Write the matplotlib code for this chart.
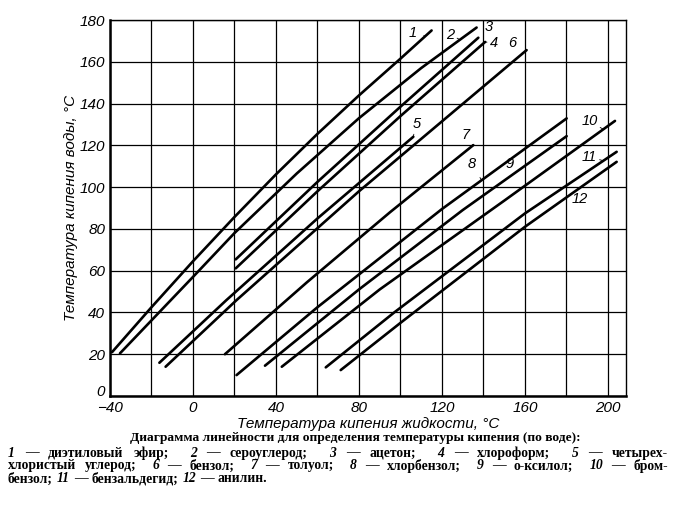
import numpy as np
import matplotlib.pyplot as plt

# Dühring-type lines: boiling point of liquid (x) vs boiling point of water (y), °C
x1 = [-39, -20, 0, 20, 40, 60, 80, 100, 115]
y1 = [21, 42.5, 64.5, 85.7, 106.1, 125.5, 143.9, 161.5, 175]
x2 = [-35.2, 0, 20, 50, 80, 110, 136.7]
y2 = [20.4, 57, 78, 106.5, 133, 157, 176.4]
x3 = [20.6, 60, 100, 137.5]
y3 = [65.4, 102.5, 138.5, 171.5]
x4 = [20.6, 60, 100, 140.8]
y4 = [61.1, 98, 134, 169.5]
x5 = [-16.2, 16, 60, 106.2]
y5 = [15.9, 45.8, 85, 124.1]
x6 = [-13.2, 21, 80, 160.8]
y6 = [14, 45.9, 98, 165.6]
x7 = [15.4, 55, 95, 135.1]
y7 = [20, 54.5, 88, 120.1]
x8 = [21, 60, 120, 180.1]
y8 = [10, 42.5, 89.5, 132.9]
x9 = [34.7, 80, 130, 180.1]
y9 = [14.5, 51, 89, 124.4]
x10 = [42.8, 90, 150, 203.4]
y10 = [14, 51, 93.5, 131.7]
x11 = [64, 97, 160, 204.2]
y11 = [13.7, 40, 87.4, 116.9]
x12 = [71.2, 100, 160, 204.2]
y12 = [12.4, 35, 81, 112.1]

lines_x = [x1, x2, x3, x4, x5, x6, x7, x8, x9, x10, x11, x12]
lines_y = [y1, y2, y3, y4, y5, y6, y7, y8, y9, y10, y11, y12]
labels = ['1', '2', '3', '4', '5', '6', '7', '8', '9', '10', '11', '12']

# label text position and x of the leader tip on the line
lab_pos = [(106, 174), (124, 173), (142.5, 176.5), (145, 169), (108, 130), (154, 169),
           (131.5, 125), (134.5, 111), (152.5, 111), (191, 131.5), (191, 114.5), (186.5, 94.5)]
tip_x = [112, 128.7, 137.5, 140.8, 106, 159, 135, 139.1, 157.6, 197.8, 197.8, 186.5]

caption_title = 'Диаграмма линейности для определения температуры кипения (по воде):'
caption_lines = [
    '1 — диэтиловый эфир; 2 — сероуглерод; 3 — ацетон; 4 — хлороформ; 5 — четырех-',
    'хлористый углерод; 6 — бензол; 7 — толуол; 8 — хлорбензол; 9 — о-ксилол; 10 — бром-',
    'бензол; 11 — бензальдегид; 12 — анилин.',
]

sans = ['Liberation Sans', 'DejaVu Sans']
serif = ['Liberation Serif', 'DejaVu Serif']

fig = plt.figure(figsize=(6.94, 5.16), dpi=100)
ax = fig.add_axes([0.1585, 0.2326, 0.7435, 0.7286])

for xs, ys in zip(lines_x, lines_y):
    ax.plot(xs, ys, color='black', lw=1.9, solid_capstyle='round', solid_joinstyle='round')

for lab, (tx, ty), xt, xs, ys in zip(labels, lab_pos, tip_x, lines_x, lines_y):
    yt = np.interp(xt, xs, ys)
    ax.annotate(lab, xy=(xt, yt), xytext=(tx, ty), ha='center', va='center',
                fontsize=10.5, style='italic', family=sans,
                arrowprops=dict(arrowstyle='-', lw=0.6, color='black', shrinkA=3, shrinkB=0))

ax.set_xlim(-40, 208.7)
ax.set_ylim(0, 180)
ax.set_xticks(np.arange(-40, 201, 40))
ax.set_xticks(np.arange(-40, 201, 20), minor=True)
ax.set_yticks(np.arange(0, 181, 20))
ax.set_xticklabels(['\u221240', '0', '40', '80', '120', '160', '200'])
ax.grid(True, which='both', color='black', lw=0.9)
ax.tick_params(which='both', length=0, labelsize=11)
ax.tick_params(axis='x', pad=3.5)
ax.tick_params(axis='y', pad=3.5)
for t in ax.get_xticklabels() + ax.get_yticklabels():
    t.set_fontstyle('italic')
    t.set_family(sans)
ax.get_yticklabels()[0].set_va('baseline')

for side in ['left', 'bottom']:
    ax.spines[side].set_linewidth(1.8)
for side in ['top', 'right']:
    ax.spines[side].set_linewidth(1.0)

ax.set_ylabel('Температура кипения воды, °С', fontsize=11, style='italic', family=sans)
ax.yaxis.set_label_coords(-0.062, 0.5)
ax.set_xlabel('Температура кипения жидкости, °С', fontsize=11, style='italic', family=sans)
ax.xaxis.set_label_coords(0.5, -0.057)

fig.text(0.512, 0.151, caption_title, ha='center', va='center',
         fontsize=9.7, family=serif, weight='bold')

# caption lines: numbers italic, first two lines justified (more room after ';')
renderer = fig.canvas.get_renderer()
figw = fig.bbox.width
x_left, x_right = 8 / figw, 668 / figw
rows_y = [0.122, 0.097, 0.072]
space = 4.0
for i, (line, yy) in enumerate(zip(caption_lines, rows_y)):
    words = line.split(' ')
    texts = []
    for w in words:
        st = 'italic' if w.isdigit() else 'normal'
        texts.append(fig.text(0, yy, w, ha='left', va='center', fontsize=9.8,
                              family=serif, weight='bold', style=st))
    widths = [t.get_window_extent(renderer).width for t in texts]
    gaps = [space] * (len(words) - 1)
    if i < 2:
        weights = [3.0 if w.endswith(';') else 1.0 for w in words[:-1]]
        extra = ((x_right - x_left) * figw - sum(widths) - space * len(gaps)) / sum(weights)
        gaps = [g + extra * wt for g, wt in zip(gaps, weights)]
    xpos = x_left * figw
    for k, (t, w) in enumerate(zip(texts, widths)):
        t.set_x(xpos / figw)
        if k < len(gaps):
            xpos += w + gaps[k]

fig.savefig('out.png', dpi=100)
